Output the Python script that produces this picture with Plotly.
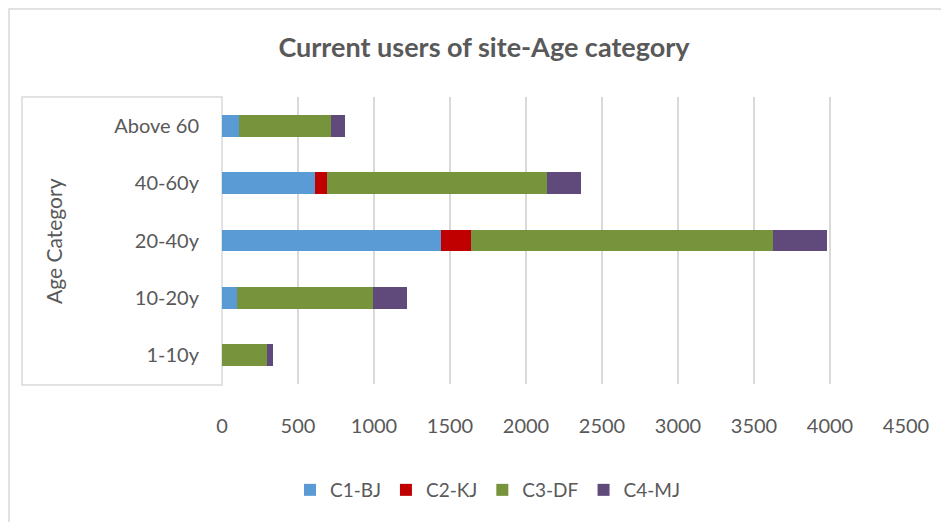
import plotly.graph_objects as go

categories = ["1-10y", "10-20y", "20-40y", "40-60y", "Above 60"]
c1_bj = [0, 100, 1440, 610, 110]
c2_kj = [0, 0, 200, 80, 0]
c3_df = [295, 895, 1985, 1450, 610]
c4_mj = [40, 220, 355, 225, 90]
x_ticks = [0, 500, 1000, 1500, 2000, 2500, 3000, 3500, 4000, 4500]

series = [
    ("C1-BJ", c1_bj, "#5B9BD5"),
    ("C2-KJ", c2_kj, "#C00000"),
    ("C3-DF", c3_df, "#77933C"),
    ("C4-MJ", c4_mj, "#604A7B"),
]

FONT = "Lato, 'Open Sans', sans-serif"
fig = go.Figure()
for name, vals, col in series:
    fig.add_trace(go.Bar(y=categories, x=vals, name=name, orientation="h",
                         marker=dict(color=col, line=dict(width=0))))

# page body has an 8px margin: work in figure coords = screen - OFF
OFF = 8
W, H = 949 - OFF, 522 - OFF
L, R, T, B = 222 - OFF, 906 - OFF, 97 - OFF, 384 - OFF
pw, ph = R - L, B - T


def px(x):
    return (x - OFF - L) / pw


def py(y):
    return (B - (y - OFF)) / ph


fig.update_layout(
    width=W, height=H,
    barmode="stack", bargap=0.62,
    margin=dict(l=L, r=W - R, t=T, b=H - B, autoexpand=False),
    paper_bgcolor="white", plot_bgcolor="white",
    font=dict(family=FONT, color="#595959", size=20),
    title=dict(text="<b>Current users of site-Age category</b>",
               x=px(484), xref="paper", xanchor="center",
               y=1 - (48 - OFF) / H, yanchor="middle",
               font=dict(size=27, color="#595959", family=FONT)),
    xaxis=dict(range=[0, 4500], tickvals=x_ticks, showgrid=True,
               gridcolor="#D9D9D9", gridwidth=1.5, zeroline=False,
               showline=False, ticks="", ticklabelstandoff=28,
               tickfont=dict(size=20, color="#595959")),
    yaxis=dict(categoryorder="array", categoryarray=categories,
               showgrid=False, zeroline=False, showline=False, ticks="",
               ticklabelstandoff=22,
               tickfont=dict(size=20, color="#595959")),
    legend=dict(orientation="h", x=px(488), xanchor="center",
                y=py(490), yanchor="middle", traceorder="normal",
                font=dict(size=19, color="#595959"),
                itemwidth=30),
    showlegend=True,
)

fig.add_annotation(text="Age Category", textangle=-90, xref="paper", yref="paper",
                   x=px(53), y=py(241), xanchor="center", yanchor="middle",
                   showarrow=False,
                   font=dict(size=21, color="#595959", family=FONT))

# inner frame around category area
fig.add_shape(type="rect", xref="paper", yref="paper",
              x0=px(22), x1=0, y0=py(385), y1=1,
              line=dict(color="#D9D9D9", width=1.5), layer="below")
# outer chart border
fig.add_shape(type="rect", xref="paper", yref="paper",
              x0=px(9), x1=px(980), y0=py(560), y1=py(9),
              line=dict(color="#D9D9D9", width=1.5), layer="below")

fig.write_html("out.html")
